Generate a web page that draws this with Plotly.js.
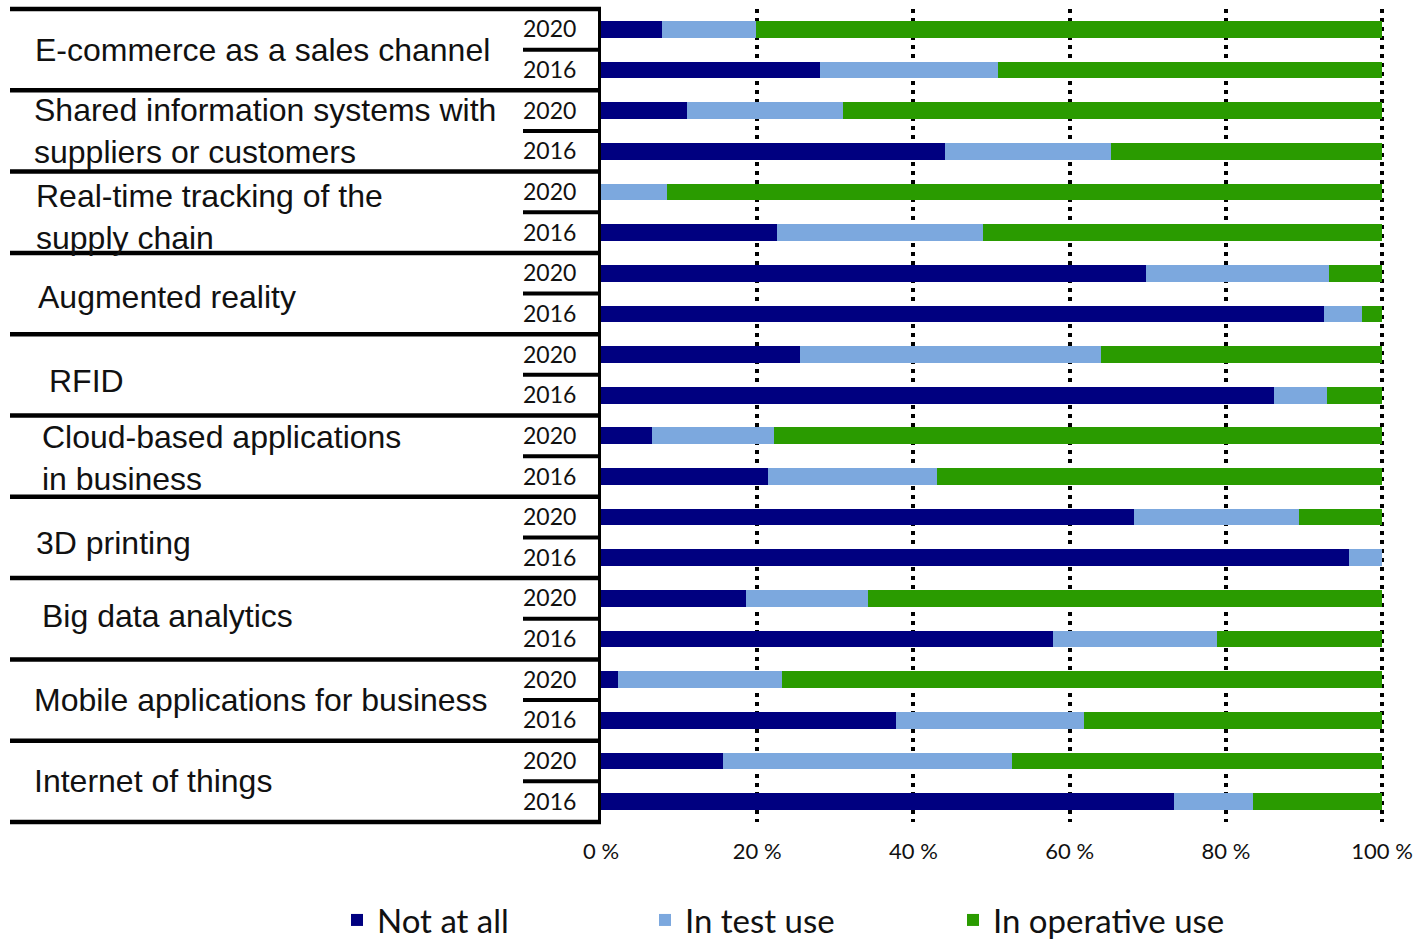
<!DOCTYPE html>
<html>
<head>
<meta charset="utf-8">
<script src="https://cdn.plot.ly/plotly-3.0.1.min.js"></script>
<style>
html,body{margin:0;padding:0;background:#fff;}
#chart{width:1418px;height:939px;}
</style>
</head>
<body>
<div id="chart"></div>
<script>
// ---------------- DATA ----------------
const categories = [
  'E-commerce as a sales channel',
  'Shared information systems with suppliers or customers',
  'Real-time tracking of the supply chain',
  'Augmented reality',
  'RFID',
  'Cloud-based applications in business',
  '3D printing',
  'Big data analytics',
  'Mobile applications for business',
  'Internet of things'
];
const categoryLabels = [
  'E-commerce as a sales channel',
  'Shared information systems with<br>suppliers or customers',
  'Real-time tracking of the<br>supply chain',
  'Augmented reality',
  'RFID',
  'Cloud-based applications<br>in business',
  '3D printing',
  'Big data analytics',
  'Mobile applications for business',
  'Internet of things'
];
const years = ['2020', '2016'];

const notAtAll2020   = [7.8, 11.0, 0,    69.8, 25.5, 6.5,  68.2, 18.5, 2.2,  15.6];
const testUse2020    = [12.0, 20.0, 8.4, 23.4, 38.5, 15.7, 21.1, 15.7, 21.0, 37.0];
const operative2020  = [80.2, 69.0, 91.6, 6.8, 36.0, 77.8, 10.7, 65.8, 76.8, 47.4];

const notAtAll2016   = [28.1, 44.1, 22.5, 92.5, 86.2, 21.4, 95.7, 57.9, 37.8, 73.3];
const testUse2016    = [22.7, 21.2, 26.4, 4.9,  6.8,  21.6, 4.3,  21.0, 24.0, 10.2];
const operative2016  = [49.2, 34.7, 51.1, 2.6,  7.0,  57.0, 0,    21.1, 38.2, 16.5];

const seriesNames = ['Not at all', 'In test use', 'In operative use'];
const xTickVals = [0, 20, 40, 60, 80, 100];
const xTickText = ['0 %', '20 %', '40 %', '60 %', '80 %', '100 %'];

// ---------------- STYLE / LAYOUT ----------------
const colors = ['#000080', '#7CA8DE', '#2A9B00'];
const W = 1418, H = 939;
const M = {l: 601, r: 32, t: 9, b: 117, autoexpand: false};
const plotW = W - M.l - M.r;
const plotH = H - M.t - M.b;
const pxToPaperX = px => (px - M.l) / plotW;
const pxToPaperY = py => (H - M.b - py) / plotH;

// label placement tweaks (pixels)
const labelLeft  = [35, 34, 36, 38, 49, 42, 36, 42, 34, 34];
const labelNudge = [0, 0, 5, 3, 6, 2, 6, -3, 0, 0];

// ---------------- BUILD ----------------
const yIds = [], yText = [];
const xs = [[], [], []];
const data2020 = [notAtAll2020, testUse2020, operative2020];
const data2016 = [notAtAll2016, testUse2016, operative2016];
categories.forEach((c, i) => {
  years.forEach(yr => {
    yIds.push(c + ' | ' + yr);
    yText.push(yr);
    const src = yr === '2020' ? data2020 : data2016;
    for (let s = 0; s < 3; s++) xs[s].push(src[s][i]);
  });
});

const traces = seriesNames.map((name, s) => ({
  type: 'bar',
  orientation: 'h',
  name: name,
  x: xs[s],
  y: yIds,
  marker: {color: colors[s], line: {width: 0}},
  hoverinfo: 'name+x'
}));

const nRows = yIds.length;
const nGroups = categories.length;

const shapes = [];
for (let k = 0; k <= nGroups; k++) {
  shapes.push({
    type: 'line', xref: 'paper', yref: 'paper',
    x0: pxToPaperX(10), x1: pxToPaperX(601),
    y0: 1 - k / nGroups, y1: 1 - k / nGroups,
    line: {color: '#000', width: 4.5}
  });
}
for (let k = 0; k < nGroups; k++) {
  const yy = 1 - (2 * k + 1) / nRows;
  shapes.push({
    type: 'line', xref: 'paper', yref: 'paper',
    x0: pxToPaperX(523), x1: pxToPaperX(601),
    y0: yy, y1: yy,
    line: {color: '#000', width: 4}
  });
}

const annotations = categoryLabels.map((t, k) => ({
  text: t,
  xref: 'paper', yref: 'paper',
  x: pxToPaperX(labelLeft[k] - 2),
  y: 1 - (k + 0.5) / nGroups,
  yshift: -labelNudge[k],
  xanchor: 'left', yanchor: 'middle',
  align: 'left',
  showarrow: false,
  font: {family: 'Liberation Sans, Arial, sans-serif', size: 32, color: '#111'}
}));

const layout = {
  width: W, height: H,
  margin: M,
  paper_bgcolor: '#fff', plot_bgcolor: '#fff',
  barmode: 'stack',
  bargap: 0.59,
  showlegend: true,
  legend: {
    orientation: 'h',
    xref: 'paper', yref: 'paper',
    x: pxToPaperX(337), xanchor: 'left',
    y: pxToPaperY(920), yanchor: 'middle',
    traceorder: 'normal',
    entrywidth: 263, entrywidthmode: 'pixels',
    font: {family: 'Lato, sans-serif', size: 33, color: '#111'}
  },
  xaxis: {
    range: [0, 100.5],
    tickmode: 'array',
    tickvals: xTickVals,
    ticktext: xTickText,
    showgrid: true,
    gridcolor: '#000', gridwidth: 4, griddash: '4px,5px',
    zeroline: false, showline: false,
    ticks: '',
    ticklabelstandoff: 14,
    tickfont: {family: 'Lato, sans-serif', size: 22, color: '#111'},
    fixedrange: true,
    automargin: false
  },
  yaxis: {
    type: 'category',
    categoryorder: 'array', categoryarray: yIds,
    range: [nRows - 0.5, -0.5],
    tickmode: 'array',
    tickvals: yIds, ticktext: yText,
    showgrid: false, zeroline: false,
    showline: true, linecolor: '#000', linewidth: 3,
    ticks: '',
    ticklabelstandoff: 17,
    tickfont: {family: 'Lato, sans-serif', size: 23, color: '#111'},
    fixedrange: true,
    automargin: false
  },
  shapes: shapes,
  annotations: annotations
};

Plotly.newPlot('chart', traces, layout, {displayModeBar: false, staticPlot: true});
</script>
</body>
</html>
